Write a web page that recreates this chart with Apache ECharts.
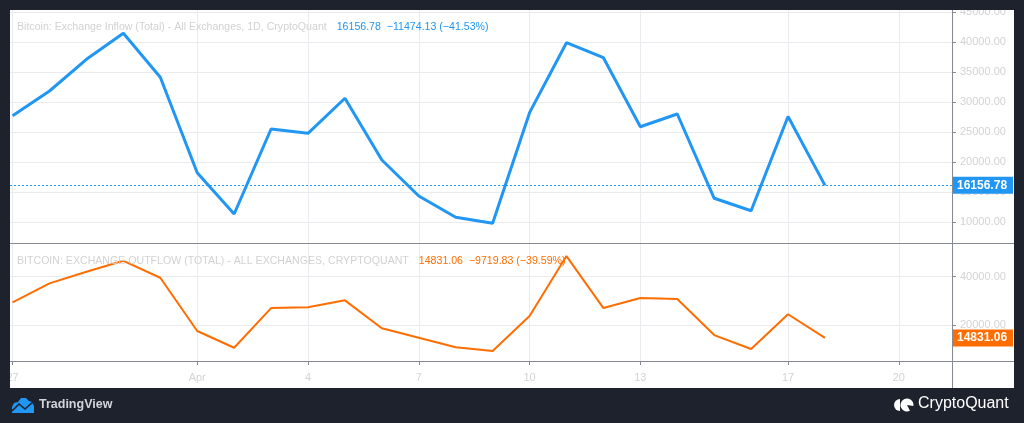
<!DOCTYPE html>
<html>
<head>
<meta charset="utf-8">
<script src="https://cdn.jsdelivr.net/npm/echarts@6/dist/echarts.min.js"></script>
<style>
html,body{margin:0;padding:0;background:#1e222d;width:1024px;height:423px;overflow:hidden;}
#panel{position:absolute;left:10px;top:10px;width:1004px;height:378px;background:#ffffff;}
#chart{position:absolute;left:0;top:0;width:1024px;height:423px;}
.cover{position:absolute;background:#1e222d;pointer-events:none;}
</style>
</head>
<body>
<div id="panel"></div>
<div id="chart"></div>
<div class="cover" style="left:0;top:0;width:1024px;height:10px;"></div>
<div class="cover" style="left:0;top:0;width:10px;height:388px;"></div>
<script>
// ---- data ----
const dates = ["Mar 27","Mar 28","Mar 29","Mar 30","Mar 31","Apr 1","Apr 2","Apr 3","Apr 4","Apr 5","Apr 6","Apr 7","Apr 8","Apr 9","Apr 10","Apr 11","Apr 12","Apr 13","Apr 14","Apr 15","Apr 16","Apr 17","Apr 18"];
const inflow = [27770,31880,37170,41500,34170,18270,11380,25550,24830,30670,20380,14380,10830,9830,28270,39930,37430,25930,28050,14000,11930,27630.91,16156.78];
const outflow = [29450,37250,42010,46530,39550,17660,10800,27100,27390,30270,18770,14910,10960,9440,23800,48460,27100,31200,30800,16000,10270,24550.89,14831.06];
const xTickIdx = [0,5,8,11,14,17,21,24];
const xTickLabels = ["27","Apr","4","7","10","13","17","20"];
const inflowTicks = [10000,15000,20000,25000,30000,35000,40000,45000];
const outflowTicks = [20000,40000];
const inflowTitle = "Bitcoin: Exchange Inflow (Total) - All Exchanges, 1D, CryptoQuant";
const inflowInfo = "16156.78  \u221211474.13 (\u221241.53%)";
const outflowTitle = "BITCOIN: EXCHANGE OUTFLOW (TOTAL) - ALL EXCHANGES, CRYPTOQUANT";
const outflowInfo = "14831.06  \u22129719.83 (\u221239.59%)";

const BLUE = "#2196f3", ORANGE = "#ff6d00";
const AXIS = "#868993", GRID = "#ebebef", LABEL = "#d3d3d3";
const FONT = "Liberation Sans";

const inflowData = inflow.map((v,i)=>[i,v]);
const outflowData = outflow.map((v,i)=>[i,v]);
const lastIn = inflow[inflow.length-1], lastOut = outflow[outflow.length-1];

const xCommon = {
  type:'value', min:-0.07, max:25.44,
  axisLine:{show:false, onZero:false},
  axisTick:{show:true, length:3, lineStyle:{color:AXIS}, customValues:xTickIdx},
  splitLine:{show:true, lineStyle:{color:GRID, width:1}},
};
const titleRich = (c)=>({fontWeight:'normal', rich:{
  a:{color:'#d2d2d2',fontSize:10.6,fontWeight:'normal',fontFamily:FONT},
  b:{color:c,fontSize:10.6,fontWeight:'normal',fontFamily:FONT}}});

const chart = echarts.init(document.getElementById('chart'), null, {renderer:'canvas'});
chart.setOption({
  animation:false,
  backgroundColor:'transparent',
  textStyle:{fontFamily:FONT},
  grid:[
    {left:10, right:72, top:10, height:233},
    {left:10, right:72, top:243, height:119}
  ],
  title:[
    {left:12, top:13, text:'{a|'+inflowTitle+'}  {b|'+inflowInfo+'}', textStyle:titleRich(BLUE)},
    {left:12, top:247, text:'{a|'+outflowTitle+'}  {b|'+outflowInfo+'}', textStyle:titleRich(ORANGE)}
  ],
  xAxis:[
    Object.assign({}, xCommon, {gridIndex:0, axisLabel:{show:false}, axisTick:{show:false, customValues:xTickIdx}}),
    Object.assign({}, xCommon, {gridIndex:1,
      axisLabel:{show:true, color:LABEL, fontSize:11, margin:10, fontFamily:FONT, customValues:xTickIdx,
        formatter:v=>{const k=xTickIdx.indexOf(Math.round(v)); return k>=0?xTickLabels[k]:'';}}})
  ],
  yAxis:[
    {type:'value', gridIndex:0, position:'right', min:6550, max:45380,
     axisLine:{show:false, onZero:false},
     axisTick:{show:true, inside:false, length:4, lineStyle:{color:AXIS}, customValues:inflowTicks},
     axisLabel:{color:LABEL, fontSize:11, margin:8, fontFamily:FONT, customValues:inflowTicks, formatter:v=>v.toFixed(2)},
     splitLine:{show:true, lineStyle:{color:GRID}}},
    {type:'value', gridIndex:1, position:'right', min:4930, max:53840,
     axisLine:{show:false, onZero:false},
     axisTick:{show:true, length:4, lineStyle:{color:AXIS}, customValues:outflowTicks},
     axisLabel:{color:LABEL, fontSize:11, margin:8, fontFamily:FONT, customValues:outflowTicks, formatter:v=>v.toFixed(2)},
     splitLine:{show:true, lineStyle:{color:GRID}}}
  ],
  series:[
    {type:'line', xAxisIndex:0, yAxisIndex:0, data:inflowData, showSymbol:false, symbol:'none',
     lineStyle:{color:BLUE, width:3}, itemStyle:{color:BLUE}, z:3,
     markLine:{symbol:'none', silent:true, animation:false,
       lineStyle:{color:BLUE, type:[2,2], width:1},
       label:{show:true, position:'end', distance:0, formatter:()=>lastIn.toFixed(2),
         color:'#fff', fontWeight:'bold', fontSize:12, lineHeight:13, fontFamily:FONT, backgroundColor:BLUE,
         padding:[2,6,2,5], align:'left'},
       data:[{yAxis:lastIn}]}},
    {type:'line', xAxisIndex:1, yAxisIndex:1, data:outflowData, showSymbol:false, symbol:'none',
     lineStyle:{color:ORANGE, width:2}, itemStyle:{color:ORANGE}, z:3,
     markLine:{symbol:'none', silent:true, animation:false,
       lineStyle:{color:'rgba(0,0,0,0)', width:0},
       label:{show:true, position:'end', distance:0, formatter:()=>lastOut.toFixed(2),
         color:'#fff', fontWeight:'bold', fontSize:12, lineHeight:13, fontFamily:FONT, backgroundColor:ORANGE,
         padding:[2,6,2,5], align:'left'},
       data:[{yAxis:lastOut}]}}
  ],
  graphic:[
    // pane frame lines
    {type:'line', z:50, shape:{x1:10, y1:243.5, x2:1014, y2:243.5}, style:{stroke:AXIS, lineWidth:1}},
    {type:'line', z:50, shape:{x1:10, y1:361.5, x2:1014, y2:361.5}, style:{stroke:AXIS, lineWidth:1}},
    {type:'line', z:50, shape:{x1:952.5, y1:10, x2:952.5, y2:388}, style:{stroke:AXIS, lineWidth:1}},
    // TradingView logo
    {type:'polygon', shape:{points:[[12,413],[12,407],[14,403],[18,402],[21,398],[26,398],[29,401],[32,402],[34,406],[34,413]]}, style:{fill:BLUE}},
    {type:'polyline', shape:{points:[[12,411],[19,404],[25,409],[34,401]]}, style:{stroke:'#1e222d', lineWidth:1.6, fill:null}},
    {type:'text', left:39, top:398, style:{text:'TradingView', fill:'#d1d4dc', fontSize:12.5, fontWeight:'bold', fontFamily:FONT}},
    // CryptoQuant logo
    {type:'sector', shape:{cx:900, cy:405, r:6, r0:0, startAngle:Math.PI/2, endAngle:Math.PI*1.5, clockwise:true}, style:{fill:'#ffffff'}},
    {type:'sector', shape:{cx:907, cy:405, r:6.5, r0:0, startAngle:Math.PI*0.35, endAngle:Math.PI*2.05, clockwise:true}, style:{fill:'#ffffff'}},
    {type:'text', left:918, top:396, style:{text:'CryptoQuant', fill:'#ffffff', fontSize:16, fontFamily:FONT}}
  ]
});
</script>
</body>
</html>
